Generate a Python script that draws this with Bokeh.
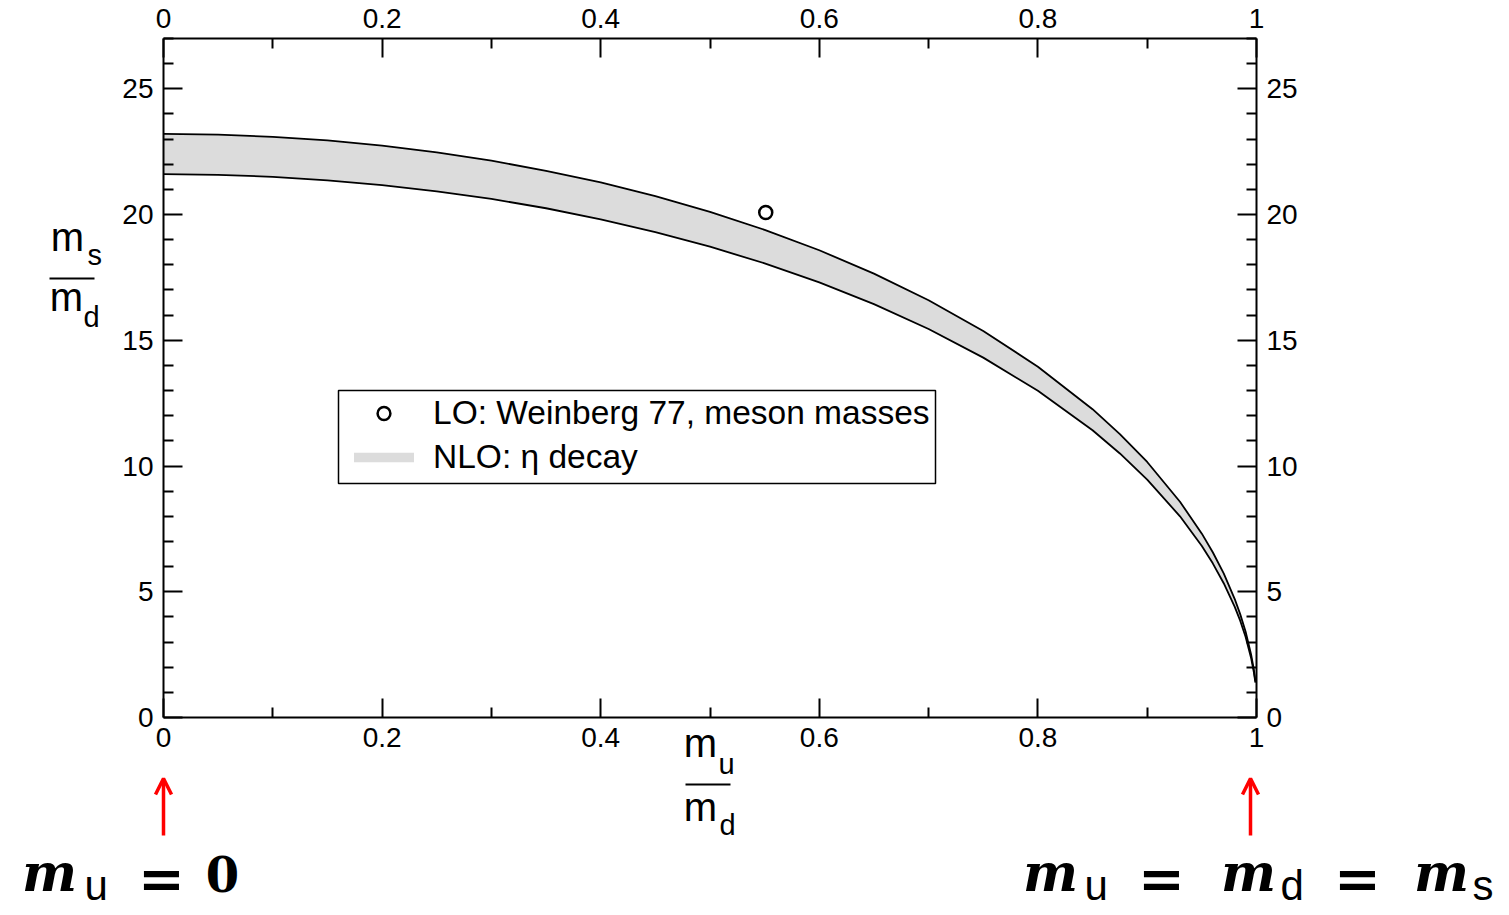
from bokeh.plotting import figure
from bokeh.models import (ColumnDataSource, FixedTicker, LinearAxis, Range1d, Label,
                          Legend, LegendItem, Arrow, OpenHead, BoxAnnotation)
from bokeh.embed import file_html
from bokeh.resources import INLINE

# ---- data ----
mu_md = [0.0, 0.05, 0.1, 0.15, 0.2, 0.25, 0.3, 0.35, 0.4, 0.45, 0.5, 0.55, 0.6, 0.65,
         0.7, 0.75, 0.8, 0.85, 0.875, 0.9, 0.93, 0.95, 0.96, 0.97, 0.98, 0.985, 0.99,
         0.995, 0.9975, 0.999]
ms_md_upper = [23.21, 23.18, 23.09, 22.95, 22.74, 22.47, 22.14, 21.74, 21.28, 20.73, 20.11,
               19.39, 18.58, 17.65, 16.59, 15.37, 13.95, 12.26, 11.27, 10.16, 8.58, 7.31,
               6.57, 5.73, 4.72, 4.12, 3.42, 2.52, 1.92, 1.44]
ms_md_lower = [21.61, 21.58, 21.50, 21.36, 21.17, 20.92, 20.62, 20.25, 19.81, 19.30, 18.72,
               18.06, 17.30, 16.44, 15.45, 14.31, 12.99, 11.42, 10.50, 9.46, 8.00, 6.82,
               6.13, 5.34, 4.41, 3.86, 3.21, 2.38, 1.82, 1.39]
lo_mu_md = [0.551]
lo_ms_md = [20.08]

x_lim = (0, 1)
y_lim = (0, 27)
x_ticks = [0, 0.2, 0.4, 0.6, 0.8, 1]
x_tick_labels = ["0", "0.2", "0.4", "0.6", "0.8", "1"]
x_minor = [0.1, 0.3, 0.5, 0.7, 0.9]
y_ticks = [0, 5, 10, 15, 20, 25]
y_tick_labels = ["0", "5", "10", "15", "20", "25"]
y_minor = [i for i in range(0, 28) if i % 5 != 0]

legend_labels = ["LO: Weinberg 77, meson masses", "NLO: η decay"]

FONT = "Liberation Sans"
SERIF = "DejaVu Serif"

# ---- layout (pixels) ----
W, H = 1505, 912
FL, FR, FT, FB = 163, 1256, 38, 717      # plot box edges on the canvas

kx = (FR - FL) / (x_lim[1] - x_lim[0])
ky = (FB - FT) / (y_lim[1] - y_lim[0])
x_range = Range1d(x_lim[0] - FL / kx, x_lim[1] + (W - FR) / kx)
y_range = Range1d(y_lim[0] - (H - FB) / ky, y_lim[1] + FT / ky)

p = figure(width=W, height=H, x_range=x_range, y_range=y_range,
           output_backend="svg", toolbar_location=None,
           x_axis_location=None, y_axis_location=None,
           min_border=0, min_border_left=0, min_border_right=0,
           min_border_top=0, min_border_bottom=0)
p.grid.visible = False
p.outline_line_color = None
p.background_fill_color = "white"
p.border_fill_color = "white"


def make_axis(side, loc, bounds, ticks, minor, labels, standoff):
    ax = LinearAxis(fixed_location=loc, bounds=bounds)
    ax.ticker = FixedTicker(ticks=ticks, minor_ticks=minor)
    ax.major_label_overrides = {t: l for t, l in zip(ticks, labels)}
    ax.axis_line_width = 2
    ax.axis_line_color = "black"
    ax.major_tick_in = 19
    ax.major_tick_out = 0
    ax.minor_tick_in = 10
    ax.minor_tick_out = 0
    ax.major_tick_line_width = 2
    ax.minor_tick_line_width = 2
    ax.major_tick_line_color = "black"
    ax.minor_tick_line_color = "black"
    ax.major_label_text_font = FONT
    ax.major_label_text_font_size = "28px"
    ax.major_label_text_color = "black"
    ax.major_label_standoff = standoff
    p.add_layout(ax, side)


make_axis("below", y_lim[0], x_lim, x_ticks, x_minor, x_tick_labels, 10)
make_axis("above", y_lim[1], x_lim, x_ticks, x_minor, x_tick_labels, 11)
make_axis("left", x_lim[0], y_lim, y_ticks, y_minor, y_tick_labels, 10)
make_axis("right", x_lim[1], y_lim, y_ticks, y_minor, y_tick_labels, 10)

src = ColumnDataSource(dict(x=mu_md, up=ms_md_upper, lo=ms_md_lower))
band = p.varea(x="x", y1="lo", y2="up", source=src, fill_color="#dcdcdc")
p.line(x="x", y="up", source=src, line_color="black", line_width=1.8)
p.line(x="x", y="lo", source=src, line_color="black", line_width=1.8)

lo_src = ColumnDataSource(dict(x=lo_mu_md, y=lo_ms_md))
circ = p.scatter(x="x", y="y", source=lo_src, marker="circle", size=13,
                 fill_color=None, line_color="black", line_width=2.5)


def sy(py):
    return H - py


# legend frame
p.add_layout(BoxAnnotation(left=338, right=935, top=sy(390), bottom=sy(483),
                           left_units="screen", right_units="screen",
                           top_units="screen", bottom_units="screen",
                           fill_color="white", fill_alpha=1.0,
                           line_color="black", line_width=1.5, line_alpha=1.0))

leg_common = dict(margin=0, padding=0, spacing=0, glyph_width=75, label_standoff=12,
                  label_height=40, label_text_font=FONT, label_text_font_size="33.5px",
                  label_text_color="black", border_line_color=None,
                  background_fill_alpha=0.0)
p.add_layout(Legend(items=[LegendItem(label=legend_labels[0], renderers=[circ])],
                    location=(346, sy(413) - 20), glyph_height=32, **leg_common), "center")
p.add_layout(Legend(items=[LegendItem(label=legend_labels[1], renderers=[band])],
                    location=(346, sy(457) - 20), glyph_height=12, **leg_common), "center")


def lab(text, x, py, size, font=FONT, style="normal", align="left", color="black"):
    # py is the wanted baseline; Bokeh places alphabetic text ~0.4em lower
    px_size = float(size.replace("px", ""))
    p.add_layout(Label(x=x, y=sy(py - 0.4 * px_size), x_units="screen", y_units="screen",
                       text=text, text_font=font, text_font_size=size,
                       text_font_style=style, text_align=align,
                       text_baseline="alphabetic", text_color=color))


def hline(x0, x1, py, width=2, color="black"):
    p.add_layout(Arrow(start=None, end=None, x_start=x0, y_start=sy(py), x_end=x1,
                       y_end=sy(py), start_units="screen", end_units="screen",
                       line_width=width, line_color=color))


# y axis title  m_s / m_d
lab("m", 67, 252, "40px", align="center")
lab("s", 87, 266, "29px")
hline(49, 94, 278)
lab("m", 66, 312, "40px", align="center")
lab("d", 83, 328, "29px")

# x axis title  m_u / m_d
lab("m", 700, 758, "40px", align="center")
lab("u", 718, 775, "29px")
hline(685, 730, 784)
lab("m", 700, 822, "40px", align="center")
lab("d", 719, 836, "29px")

# red arrows
for px in (163, 1250):
    p.add_layout(Arrow(end=OpenHead(size=16, line_color="red", line_width=3.5),
                       x_start=px, y_start=sy(835), x_end=px, y_end=sy(778),
                       start_units="screen", end_units="screen",
                       line_color="red", line_width=3.5))

# m_u = 0
lab("m", 49, 893, "52px", font=SERIF, style="bold italic", align="center")
lab("u", 84, 902, "42px")
lab("=", 161, 900, "56px", font=SERIF, style="bold", align="center")
lab("0", 222, 893, "48px", font=SERIF, style="bold", align="center")
# m_u = m_d = m_s
lab("m", 1050, 893, "52px", font=SERIF, style="bold italic", align="center")
lab("u", 1084, 902, "42px")
lab("=", 1161, 900, "56px", font=SERIF, style="bold", align="center")
lab("m", 1248, 893, "52px", font=SERIF, style="bold italic", align="center")
lab("d", 1280, 902, "42px")
lab("=", 1357, 900, "56px", font=SERIF, style="bold", align="center")
lab("m", 1441, 893, "52px", font=SERIF, style="bold italic", align="center")
lab("s", 1472, 902, "42px")

open("out.html", "w").write(file_html(p, INLINE))
